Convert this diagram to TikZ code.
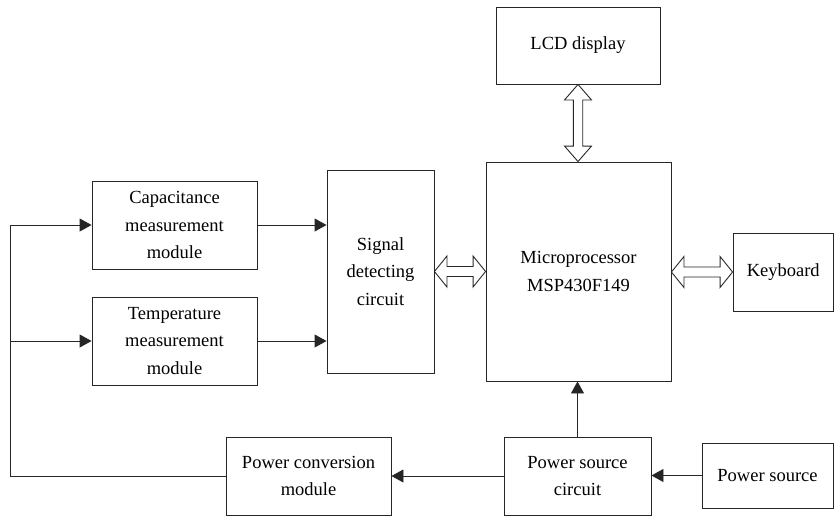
\documentclass[tikz,border=0pt]{standalone}
\usepackage{fontspec}
\setmainfont{Liberation Serif}
\usetikzlibrary{arrows.meta,calc}

% hollow two-headed bus arrow, left point #1 to right point #2
\newcommand\fatharrow[2]{%
  \draw[wire] let \p1=(#1), \p2=(#2) in
    (\p1) -- (\x1+12.5pt,\y1+15.5pt) -- (\x1+12.5pt,\y1+5pt)
    -- (\x2-12.5pt,\y1+5pt) -- (\x2-12.5pt,\y1+15.5pt) -- (\x2,\y1)
    -- (\x2-12.5pt,\y1-15.5pt) -- (\x2-12.5pt,\y1-5pt)
    -- (\x1+12.5pt,\y1-5pt) -- (\x1+12.5pt,\y1-15.5pt) -- cycle;}
% hollow two-headed bus arrow, upper point #1 to lower point #2
\newcommand\fatvarrow[2]{%
  \draw[wire] let \p1=(#1), \p2=(#2) in
    (\p1) -- (\x1+13.5pt,\y1-15.5pt) -- (\x1+4.7pt,\y1-15.5pt)
    -- (\x1+4.7pt,\y2+15.5pt) -- (\x1+13.5pt,\y2+15.5pt) -- (\x1,\y2)
    -- (\x1-13.5pt,\y2+15.5pt) -- (\x1-4.7pt,\y2+15.5pt)
    -- (\x1-4.7pt,\y1-15.5pt) -- (\x1-13.5pt,\y1-15.5pt) -- cycle;}

\tikzset{
  wire/.style={draw=black!85, line width=0.9pt},
  arr/.style={wire, -{Triangle[length=12pt,width=13pt]}},
  box/.style={wire, rectangle, align=center, inner sep=0pt,
    font=\fontsize{18.5}{27.5}\selectfont, text=black},
}

\begin{document}
\begin{tikzpicture}[x=1pt,y=-1pt]
\useasboundingbox (0,0) rectangle (834,517);

% blocks
\node[box, minimum width=164pt, minimum height=77pt]  (lcd)   at (578,45.5)    {LCD display};
\node[box, minimum width=185pt, minimum height=219pt] (mcu)   at (578.5,271.5) {Microprocessor\\MSP430F149};
\node[box, minimum width=100.5pt, minimum height=78pt](kbd)   at (783.25,272)  {Keyboard};
\node[box, minimum width=107pt, minimum height=203pt] (sig)   at (380.5,271.5) {Signal\\detecting\\circuit};
\node[box, minimum width=165pt, minimum height=88pt]  (cap)   at (174.5,225)   {Capacitance\\measurement\\module};
\node[box, minimum width=165pt, minimum height=88pt]  (temp)  at (174.5,341)   {Temperature\\measurement\\module};
\node[box, minimum width=165pt, minimum height=78pt]  (pconv) at (308.5,476)   {Power conversion\\module};
\node[box, minimum width=147pt, minimum height=78pt]  (psc)   at (577.5,476)   {Power source\\circuit};
\node[box, minimum width=131pt, minimum height=65pt]  (ps)    at (767.5,475.5) {Power source};

% sensor outputs into the detector
\draw[arr] (cap.east)  -- (cap.east -| sig.west);
\draw[arr] (temp.east) -- (temp.east -| sig.west);

% supply chain
\draw[arr] (ps.west)  -- (ps.west -| psc.east);
\draw[arr] (psc.west) -- (pconv.east);
\draw[arr] (psc.north) -- (psc.north |- mcu.south);

% supply rail back to the measurement modules
\coordinate (rail) at (10,476);
\draw[arr] (pconv.west) -- (rail) |- (cap.west);
\draw[arr] (rail |- temp.west) -- (temp.west);

% data buses
\fatharrow{sig.east}{sig.east -| mcu.west}
\fatharrow{kbd.west -| mcu.east}{kbd.west}
\fatvarrow{lcd.south}{lcd.south |- mcu.north}
\end{tikzpicture}
\end{document}
